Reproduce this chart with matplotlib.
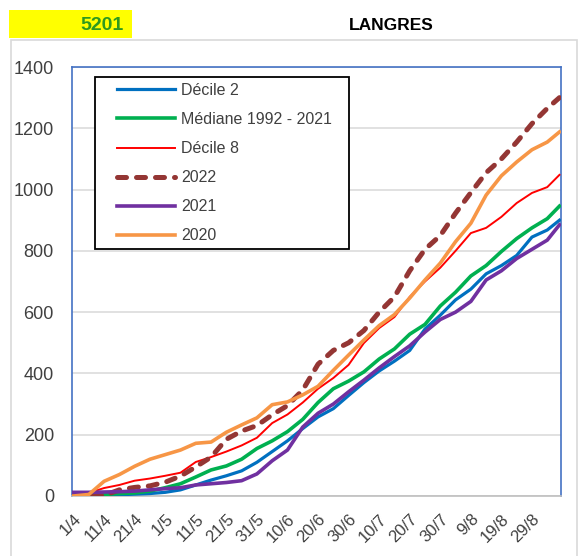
import matplotlib
matplotlib.use('Agg')
import matplotlib.pyplot as plt
from matplotlib.patches import Rectangle

# ---- data (day index from 1/4) ----
days = [0, 5, 10, 15, 20, 25, 30, 35, 40, 45, 50, 55, 60, 65, 70, 75, 80, 85, 90,
        95, 100, 105, 110, 115, 120, 125, 130, 135, 140, 145, 150, 155, 159]

decile2 = [0, 0, 2, 4, 6, 8, 12, 20, 36, 52, 66, 82, 110, 145, 180, 220, 258, 285, 328,
           370, 408, 440, 475, 545, 590, 640, 675, 725, 752, 785, 845, 868, 900]
mediane = [0, 2, 5, 8, 10, 16, 27, 40, 62, 85, 98, 120, 155, 180, 210, 250, 305, 350, 375,
           405, 447, 480, 528, 560, 620, 665, 718, 752, 798, 840, 875, 905, 946]
decile8 = [0, 10, 26, 36, 50, 57, 66, 76, 111, 127, 145, 165, 190, 238, 266, 305, 350, 385, 428,
           499, 548, 584, 650, 700, 745, 800, 858, 875, 911, 956, 989, 1008, 1048]
y2022 = [0, 0, 2, 20, 28, 33, 45, 65, 95, 127, 185, 212, 230, 265, 295, 346, 430, 475, 500,
         540, 600, 650, 735, 805, 850, 923, 990, 1055, 1100, 1155, 1215, 1265, 1300]
y2021 = [12, 12, 13, 14, 16, 20, 24, 27, 36, 40, 44, 50, 72, 115, 150, 225, 270, 300, 340,
         378, 418, 455, 490, 535, 576, 600, 635, 705, 735, 775, 805, 835, 885]
y2020 = [0, 5, 48, 70, 97, 120, 135, 150, 172, 176, 208, 232, 255, 298, 307, 330, 358, 410, 460,
         509, 556, 592, 646, 705, 760, 830, 890, 982, 1045, 1090, 1130, 1155, 1188]

tick_days = list(range(0, 151, 10))
tick_labels = ["1/4", "11/4", "21/4", "1/5", "11/5", "21/5", "31/5", "10/6", "20/6",
               "30/6", "10/7", "20/7", "30/7", "9/8", "19/8", "29/8"]
y_ticks = [0, 200, 400, 600, 800, 1000, 1200, 1400]

station = "5201"
title = "LANGRES"

# ---- figure ----
plt.rcParams['font.family'] = ['Liberation Sans', 'DejaVu Sans']
W, H = 579, 556
fig = plt.figure(figsize=(W / 100, H / 100), dpi=100)

# outer light gray frame
fig.patches.append(Rectangle((11 / W, -0.02), 566 / W, 1 - 40 / H + 0.02,
                             transform=fig.transFigure, fill=False,
                             edgecolor='#D9D9D9', lw=1.2, zorder=0))
# yellow box
fig.patches.append(Rectangle((9 / W, 1 - 38 / H), 123 / W, 28 / H,
                             transform=fig.transFigure, facecolor='#FFFF00',
                             edgecolor='none', zorder=1))
fig.text(124 / W, 1 - 25 / H, station, ha='right', va='center', fontsize=14,
         fontweight='bold', color='#2E9A1E')
fig.text(391 / W, 1 - 25 / H, title, ha='center', va='center', fontsize=12.5,
         fontweight='bold', color='black')

ax = fig.add_axes([72 / W, 1 - 496 / H, 489 / W, 429 / H])
ax.set_xlim(-0.5, 159.5)
ax.set_ylim(0, 1400)

series = [
    ("Décile 2", decile2, dict(color='#0070C0', lw=2.3)),
    ("Médiane 1992 - 2021", mediane, dict(color='#00B050', lw=2.6)),
    ("Décile 8", decile8, dict(color='#FF0000', lw=1.4)),
    ("2022", y2022, dict(color='#943634', lw=3.6, dashes=[1.8, 2.0],
                         dash_capstyle='round')),
    ("2021", y2021, dict(color='#7030A0', lw=2.6)),
    ("2020", y2020, dict(color='#F79646', lw=2.6)),
]
handles = []
for name, vals, st in series:
    h, = ax.plot(days, vals, label=name, zorder=3, **st)
    handles.append(h)

ax.set_yticks(y_ticks)
ax.set_yticklabels([str(v) for v in y_ticks], fontsize=13, color='#404040')
ax.set_xticks(tick_days)
ax.set_xticklabels(tick_labels, fontsize=12, color='#404040', rotation=45,
                   ha='right', va='top', rotation_mode='anchor')
ax.tick_params(axis='y', length=0, pad=13)
ax.tick_params(axis='x', length=0, pad=11)
ax.grid(axis='y', color='#D9D9D9', lw=1.1, zorder=0)
ax.set_axisbelow(True)
for s in ['left', 'top', 'right']:
    ax.spines[s].set_color('#4472C4')
    ax.spines[s].set_linewidth(1.2)
ax.spines['bottom'].set_color('#BFBFBF')
ax.spines['bottom'].set_linewidth(1.2)

# legend box
box = Rectangle((95 / W, 1 - 249 / H), 254 / W, 172 / H, transform=fig.transFigure,
                facecolor='white', edgecolor='black', lw=1.3, zorder=5)
ax.add_patch(box)
box.set_clip_on(False)
leg = ax.legend(handles=handles, loc='upper left',
                bbox_to_anchor=(117 / W, 1 - 83 / H), bbox_transform=fig.transFigure,
                frameon=False, fontsize=11.5, borderpad=0, borderaxespad=0,
                handlelength=3.6, handletextpad=0.4, labelspacing=0.88,
                labelcolor='#404040')
leg.set_zorder(6)

fig.savefig('out.png', dpi=100)
